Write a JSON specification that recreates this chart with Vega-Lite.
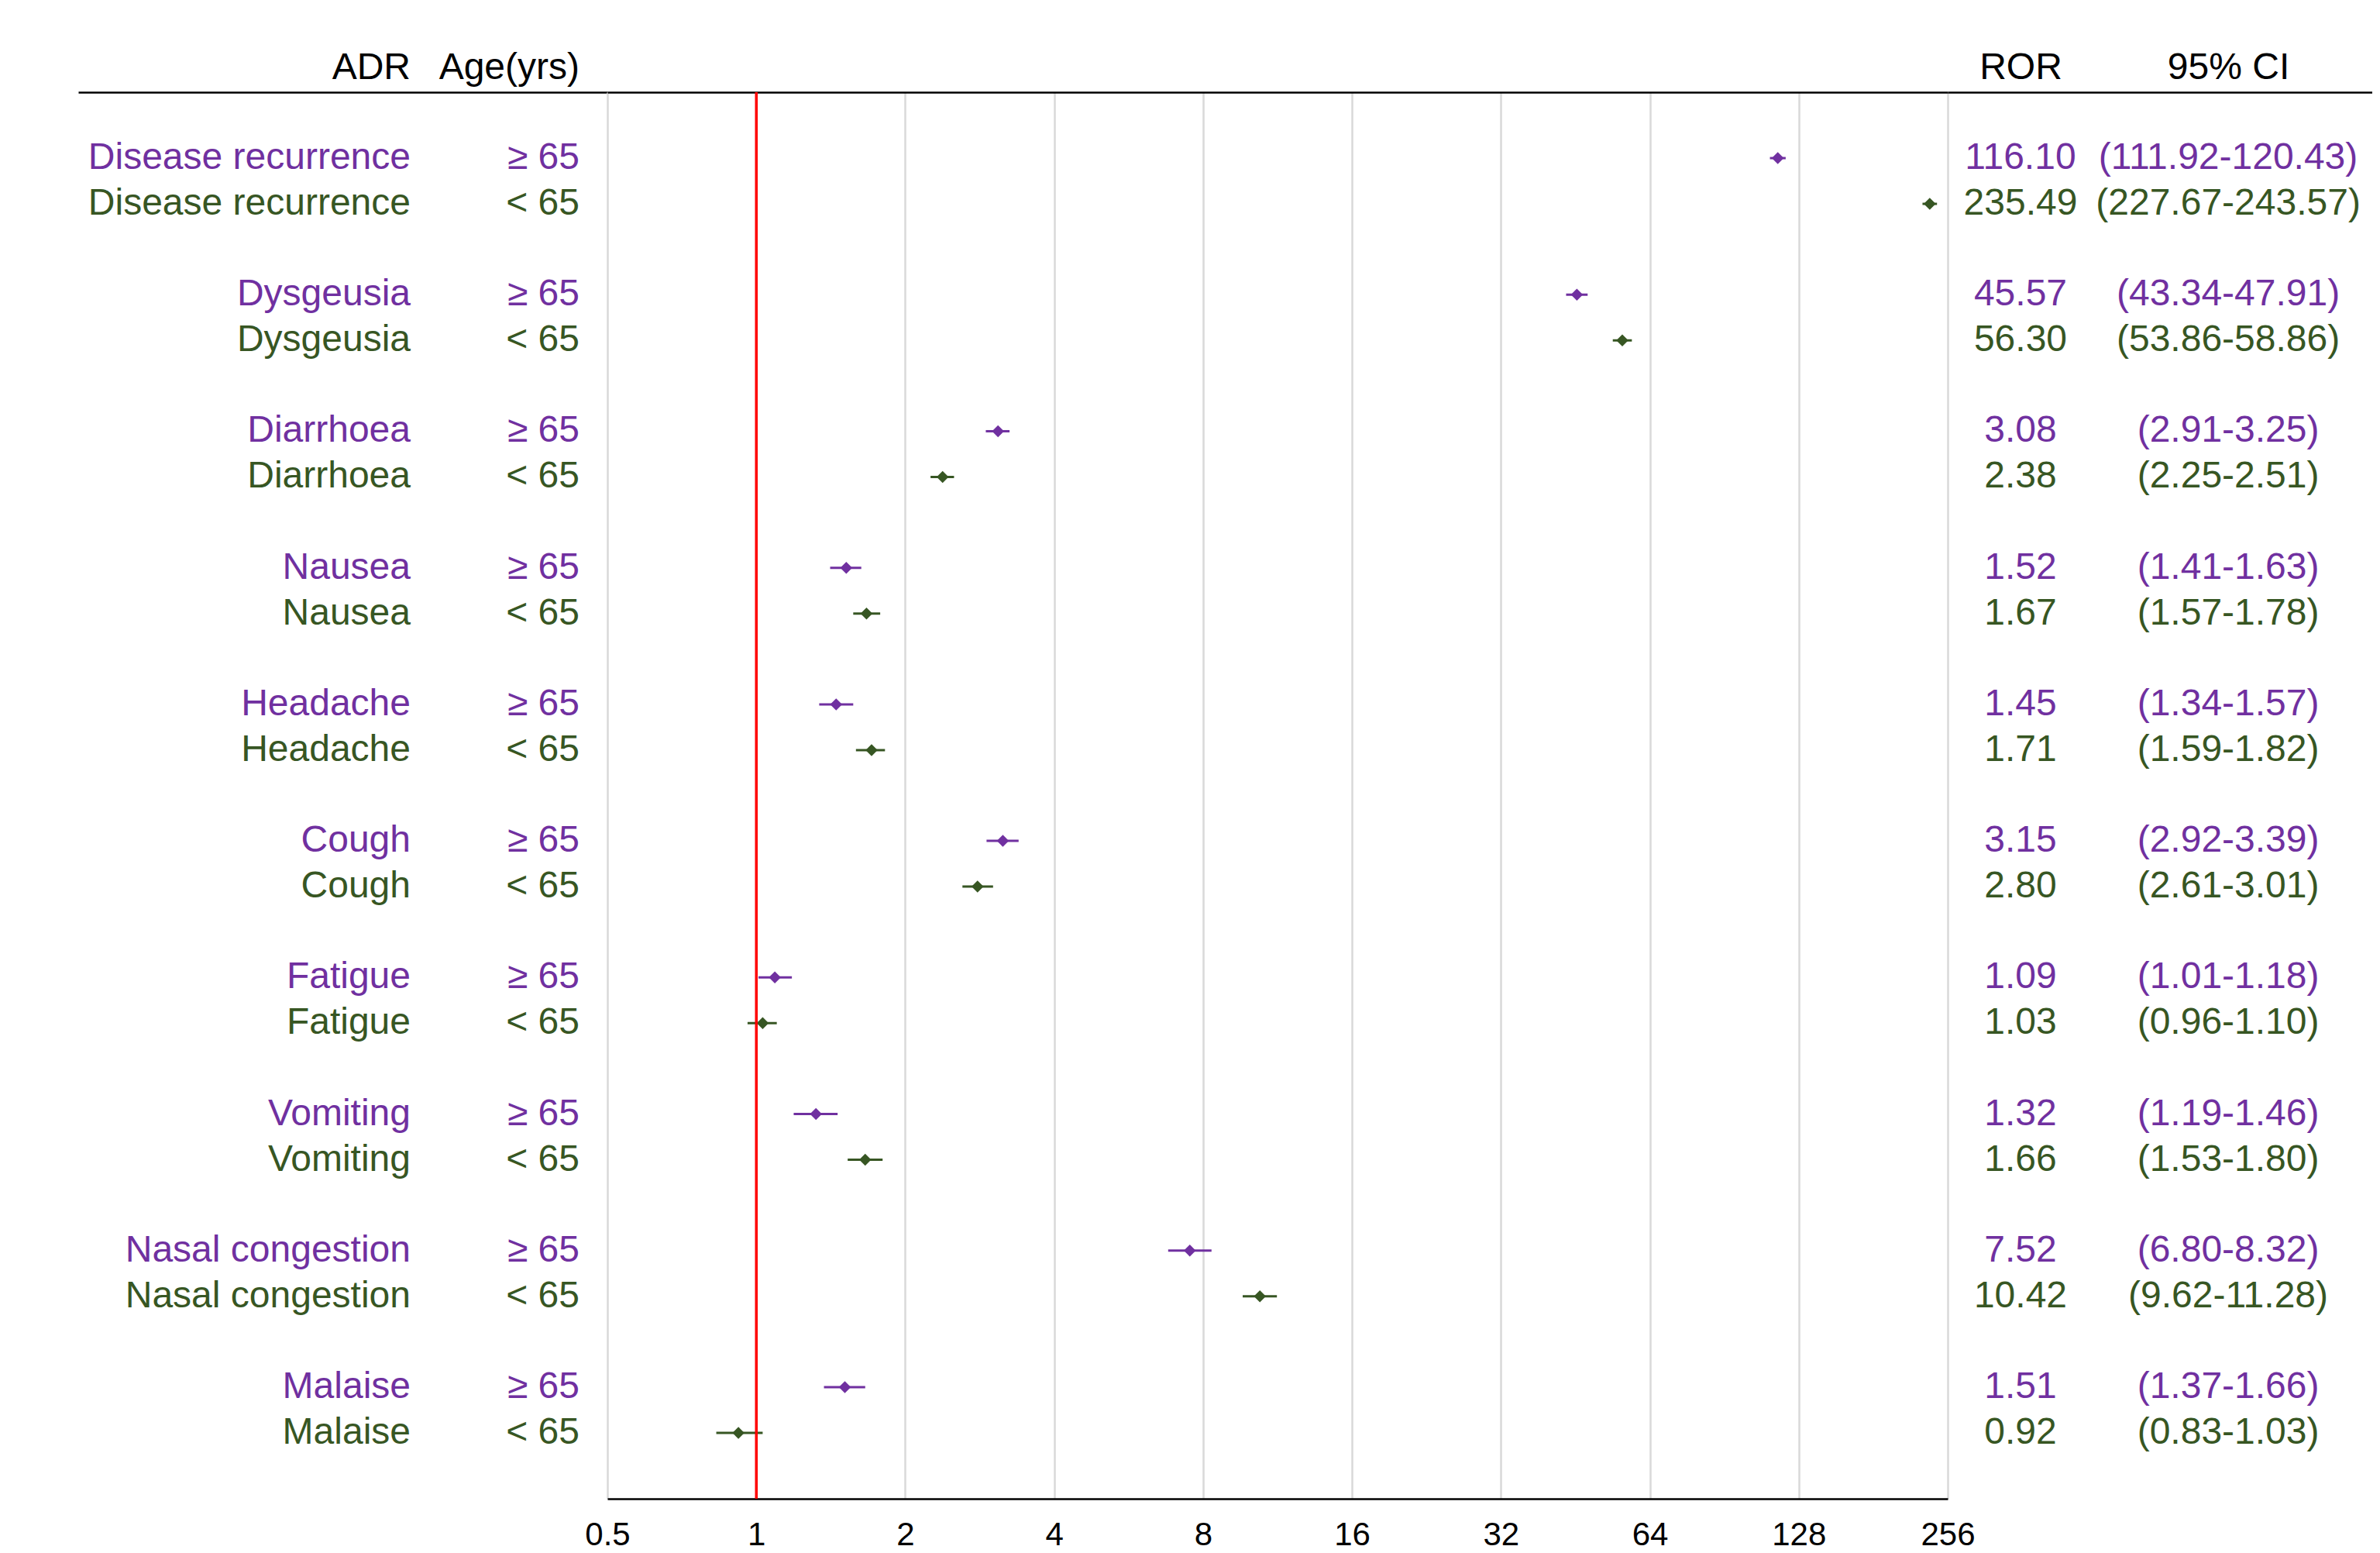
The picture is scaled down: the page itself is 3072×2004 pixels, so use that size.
{
  "$schema": "https://vega.github.io/schema/vega-lite/v6.json",
  "background": "white",
  "padding": {"left": 101, "top": 63, "right": 0, "bottom": 0},
  "spacing": 0,
  "bounds": "flush",
  "config": {
    "view": {"stroke": null},
    "font": "Liberation Sans",
    "text": {"font": "Liberation Sans"},
    "axis": {"labelFont": "Liberation Sans"}
  },
  "datasets": {
    "rows": [
      {"ADR": "Disease recurrence", "Age": "≥ 65", "ROR": 116.10, "lo": 111.92, "hi": 120.43, "CI": "(111.92-120.43)"},
      {"ADR": "Disease recurrence", "Age": "< 65", "ROR": 235.49, "lo": 227.67, "hi": 243.57, "CI": "(227.67-243.57)"},
      {"ADR": "Dysgeusia", "Age": "≥ 65", "ROR": 45.57, "lo": 43.34, "hi": 47.91, "CI": "(43.34-47.91)"},
      {"ADR": "Dysgeusia", "Age": "< 65", "ROR": 56.30, "lo": 53.86, "hi": 58.86, "CI": "(53.86-58.86)"},
      {"ADR": "Diarrhoea", "Age": "≥ 65", "ROR": 3.08, "lo": 2.91, "hi": 3.25, "CI": "(2.91-3.25)"},
      {"ADR": "Diarrhoea", "Age": "< 65", "ROR": 2.38, "lo": 2.25, "hi": 2.51, "CI": "(2.25-2.51)"},
      {"ADR": "Nausea", "Age": "≥ 65", "ROR": 1.52, "lo": 1.41, "hi": 1.63, "CI": "(1.41-1.63)"},
      {"ADR": "Nausea", "Age": "< 65", "ROR": 1.67, "lo": 1.57, "hi": 1.78, "CI": "(1.57-1.78)"},
      {"ADR": "Headache", "Age": "≥ 65", "ROR": 1.45, "lo": 1.34, "hi": 1.57, "CI": "(1.34-1.57)"},
      {"ADR": "Headache", "Age": "< 65", "ROR": 1.71, "lo": 1.59, "hi": 1.82, "CI": "(1.59-1.82)"},
      {"ADR": "Cough", "Age": "≥ 65", "ROR": 3.15, "lo": 2.92, "hi": 3.39, "CI": "(2.92-3.39)"},
      {"ADR": "Cough", "Age": "< 65", "ROR": 2.80, "lo": 2.61, "hi": 3.01, "CI": "(2.61-3.01)"},
      {"ADR": "Fatigue", "Age": "≥ 65", "ROR": 1.09, "lo": 1.01, "hi": 1.18, "CI": "(1.01-1.18)"},
      {"ADR": "Fatigue", "Age": "< 65", "ROR": 1.03, "lo": 0.96, "hi": 1.10, "CI": "(0.96-1.10)"},
      {"ADR": "Vomiting", "Age": "≥ 65", "ROR": 1.32, "lo": 1.19, "hi": 1.46, "CI": "(1.19-1.46)"},
      {"ADR": "Vomiting", "Age": "< 65", "ROR": 1.66, "lo": 1.53, "hi": 1.80, "CI": "(1.53-1.80)"},
      {"ADR": "Nasal congestion", "Age": "≥ 65", "ROR": 7.52, "lo": 6.80, "hi": 8.32, "CI": "(6.80-8.32)"},
      {"ADR": "Nasal congestion", "Age": "< 65", "ROR": 10.42, "lo": 9.62, "hi": 11.28, "CI": "(9.62-11.28)"},
      {"ADR": "Malaise", "Age": "≥ 65", "ROR": 1.51, "lo": 1.37, "hi": 1.66, "CI": "(1.37-1.66)"},
      {"ADR": "Malaise", "Age": "< 65", "ROR": 0.92, "lo": 0.83, "hi": 1.03, "CI": "(0.83-1.03)"}
    ]
  },
  "hconcat": [
    {
      "width": 683,
      "height": 1815,
      "data": {"name": "rows"},
      "encoding": {
        "y": {"field": "ADR", "type": "nominal", "sort": ["Disease recurrence", "Dysgeusia", "Diarrhoea", "Nausea", "Headache", "Cough", "Fatigue", "Vomiting", "Nasal congestion", "Malaise"], "scale": {"paddingInner": 0, "paddingOuter": 0.15}, "axis": null},
        "yOffset": {"field": "Age", "type": "nominal", "sort": ["≥ 65", "< 65"], "scale": {"paddingInner": 0, "paddingOuter": 0.493}},
        "color": {"field": "Age", "type": "nominal", "scale": {"domain": ["≥ 65", "< 65"], "range": ["#7030A0", "#375623"]}, "legend": null}
      },
      "layer": [
        {
          "mark": {"type": "text", "align": "right", "baseline": "middle", "fontSize": 48},
          "encoding": {
            "x": {"datum": "ADR", "type": "nominal", "scale": {"type": "band", "domain": ["ADR", "Age(yrs)"], "paddingInner": 0.8, "paddingOuter": 0.9665, "align": 0.9663}, "axis": {"orient": "top", "title": null, "ticks": false, "grid": false, "domainColor": "black", "domainWidth": 2.5, "labelFontSize": 48, "labelColor": "black", "labelAlign": "right", "labelBaseline": "alphabetic", "labelPadding": 18, "labelAngle": 0, "labelLimit": 0}},
            "text": {"field": "ADR"}
          }
        },
        {
          "mark": {"type": "text", "align": "right", "baseline": "middle", "fontSize": 48},
          "encoding": {
            "x": {"datum": "Age(yrs)", "type": "nominal"},
            "text": {"field": "Age"}
          }
        }
      ]
    },
    {
      "width": 1730,
      "height": 1815,
      "data": {"name": "rows"},
      "encoding": {
        "y": {"field": "ADR", "type": "nominal", "sort": ["Disease recurrence", "Dysgeusia", "Diarrhoea", "Nausea", "Headache", "Cough", "Fatigue", "Vomiting", "Nasal congestion", "Malaise"], "scale": {"paddingInner": 0, "paddingOuter": 0.15}, "axis": null},
        "yOffset": {"field": "Age", "type": "nominal", "sort": ["≥ 65", "< 65"], "scale": {"paddingInner": 0, "paddingOuter": 0.493}},
        "color": {"field": "Age", "type": "nominal", "scale": {"domain": ["≥ 65", "< 65"], "range": ["#7030A0", "#375623"]}, "legend": null}
      },
      "layer": [
        {
          "mark": {"type": "rule", "strokeWidth": 3},
          "encoding": {
            "x": {"field": "lo", "type": "quantitative", "scale": {"type": "log", "base": 2, "domain": [0.5, 256], "nice": false}, "axis": {"orient": "bottom", "values": [0.5, 1, 2, 4, 8, 16, 32, 64, 128, 256], "format": "~g", "title": null, "ticks": false, "grid": true, "gridColor": "#d9d9d9", "gridWidth": 2.5, "domainColor": "black", "domainWidth": 2.5, "labelFontSize": 42, "labelColor": "black", "labelPadding": 26, "labelFlush": false}},
            "x2": {"field": "hi"}
          }
        },
        {
          "mark": {"type": "point", "shape": "diamond", "filled": true, "size": 240, "opacity": 1},
          "encoding": {
            "x": {"field": "ROR", "type": "quantitative", "axis": null}
          }
        },
        {
          "mark": {"type": "rule", "color": "#ff0000", "strokeWidth": 2.5},
          "encoding": {
            "x": {"datum": 1, "type": "quantitative", "axis": {"orient": "top", "labels": false, "ticks": false, "grid": false, "domainColor": "black", "domainWidth": 2.5, "title": null}},
            "y": null, "yOffset": null, "color": null
          }
        }
      ],
      "resolve": {"axis": {"x": "independent"}}
    },
    {
      "width": 548,
      "height": 1815,
      "data": {"name": "rows"},
      "encoding": {
        "y": {"field": "ADR", "type": "nominal", "sort": ["Disease recurrence", "Dysgeusia", "Diarrhoea", "Nausea", "Headache", "Cough", "Fatigue", "Vomiting", "Nasal congestion", "Malaise"], "scale": {"paddingInner": 0, "paddingOuter": 0.15}, "axis": null},
        "yOffset": {"field": "Age", "type": "nominal", "sort": ["≥ 65", "< 65"], "scale": {"paddingInner": 0, "paddingOuter": 0.493}},
        "color": {"field": "Age", "type": "nominal", "scale": {"domain": ["≥ 65", "< 65"], "range": ["#7030A0", "#375623"]}, "legend": null}
      },
      "layer": [
        {
          "mark": {"type": "text", "align": "center", "baseline": "middle", "fontSize": 48},
          "encoding": {
            "x": {"datum": "ROR", "type": "nominal", "scale": {"type": "point", "domain": ["ROR", "95% CI"], "padding": 0.522, "align": 0.3357}, "axis": {"orient": "top", "title": null, "ticks": false, "grid": false, "domainColor": "black", "domainWidth": 2.5, "labelFontSize": 48, "labelColor": "black", "labelAlign": "center", "labelBaseline": "alphabetic", "labelPadding": 18, "labelAngle": 0, "labelLimit": 0}},
            "text": {"field": "ROR", "type": "quantitative", "format": ".2f"}
          }
        },
        {
          "mark": {"type": "text", "align": "center", "baseline": "middle", "fontSize": 48},
          "encoding": {
            "x": {"datum": "95% CI", "type": "nominal"},
            "text": {"field": "CI"}
          }
        }
      ]
    }
  ]
}
